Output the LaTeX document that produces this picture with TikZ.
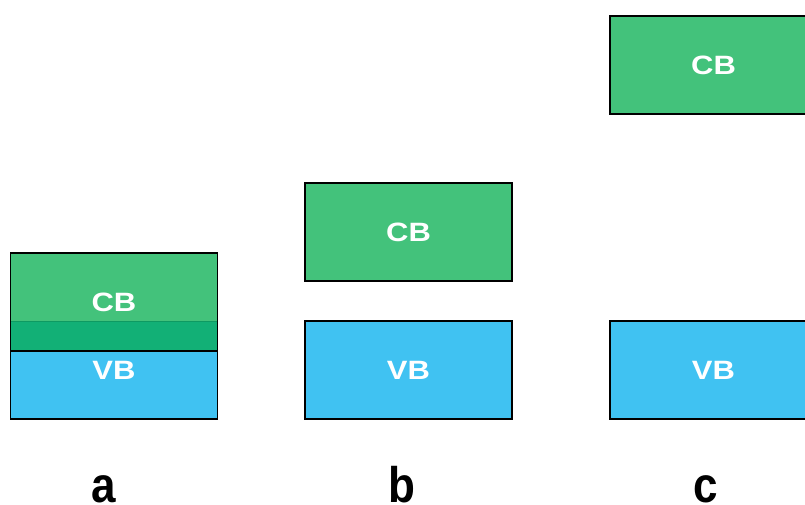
\documentclass[tikz,border=0pt]{standalone}
\usepackage{fontspec}
\setmainfont{Liberation Sans}
\newfontfamily\boxfont[FakeStretch=1.17]{Liberation Sans}
\newfontfamily\letterfont[FakeStretch=0.88]{Liberation Sans}
\definecolor{cbgreen}{HTML}{43C27B}
\definecolor{vbblue}{HTML}{40C2F2}
\definecolor{mixgreen}{HTML}{12B076}
\definecolor{edgegreen}{HTML}{0E9A62}
\tikzset{
  band/.style={draw=black, line width=1.2pt, minimum width=207pt, minimum height=98pt,
    outer sep=0pt, inner sep=0pt, text=white,
    font=\boxfont\fontsize{26.5}{26.5}\selectfont\bfseries},
  cbbox/.style={band, fill=cbgreen},
  vbbox/.style={band, fill=vbblue},
  panel/.style={font=\letterfont\fontsize{50}{50}\selectfont\bfseries, anchor=base, inner sep=0pt}
}
\begin{document}
\begin{tikzpicture}[x=1pt, y=-1pt]
  \useasboundingbox (0,0) rectangle (805,504);
  \clip (0,0) rectangle (805,504);
  \fill[white] (0,0) rectangle (805,504);

  % panel a: overlapping bands
  \node[vbbox] (va) at (114,370) {VB};
  \node[cbbox] (ca) at (114,302) {CB};
  \fill[mixgreen] (va.north west) rectangle (ca.south east);
  \draw[edgegreen, line width=0.8pt] (va.north west) -- (va.north east);
  \draw[line width=1.2pt] (ca.south west) -- (ca.south east);
  \draw[line width=1.2pt] (ca.south west) -- (va.north west);
  \draw[line width=1.2pt] (ca.south east) -- (va.north east);

  % panel b: separated bands
  \node[cbbox] (cb) at (408.5,232) {CB};
  \node[vbbox] (vb) at (408.5,370) {VB};

  % panel c: widely separated bands
  \node[cbbox] (cc) at (713.5,65) {CB};
  \node[vbbox] (vc) at (713.5,370) {VB};

  % panel letters
  \node[panel] (la) at (104,502.5) {a};
  \node[panel] (lb) at (402,502.5) {b};
  \node[panel] (lc) at (706,502.5) {c};
\end{tikzpicture}
\end{document}
